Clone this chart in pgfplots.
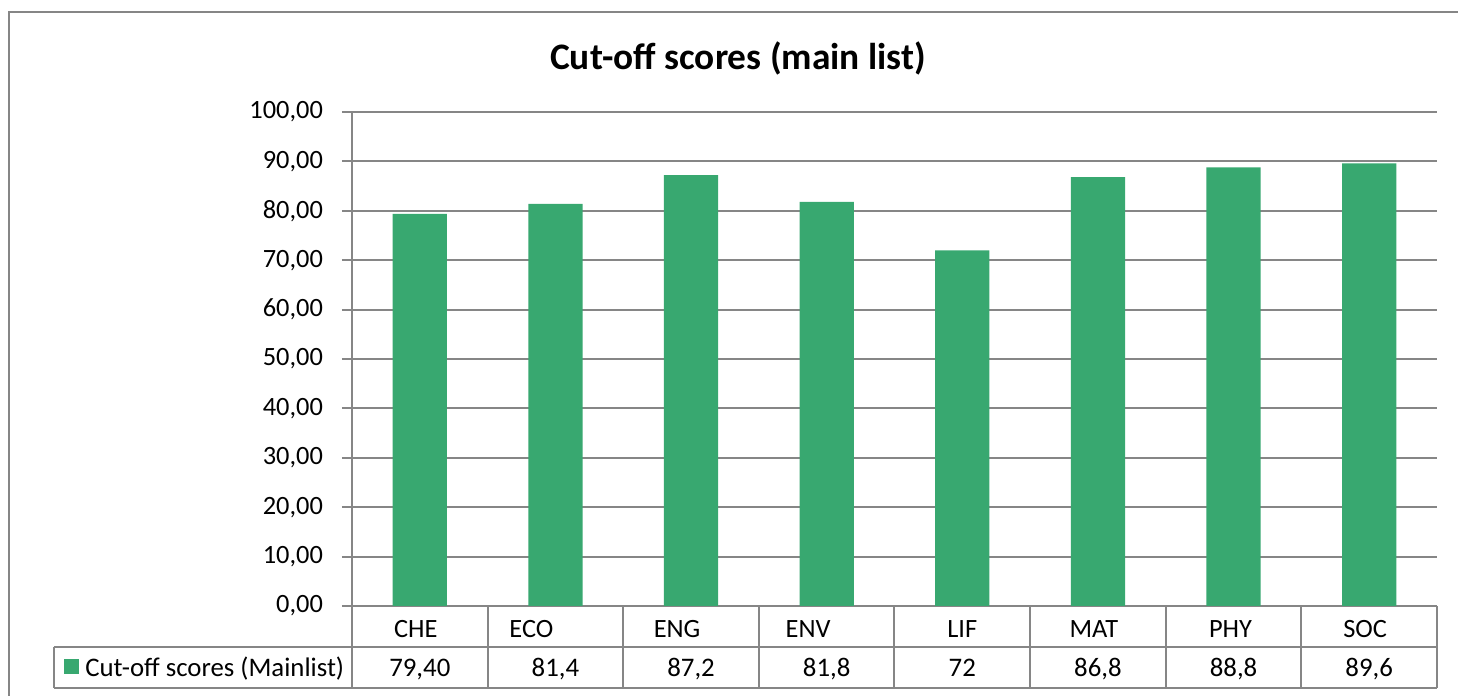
\documentclass[border=0pt]{standalone}
\usepackage{pgfplots}
\pgfplotsset{compat=1.18}
\usepackage{fontspec}
\setmainfont{Carlito}
\definecolor{barg}{RGB}{56,168,112}
\definecolor{gl}{RGB}{134,134,134}
\begin{document}
\begin{tikzpicture}[x=1pt,y=1pt]
\useasboundingbox (0,0) rectangle (729,348);
\draw[gl, line width=1pt] (4.5,0) -- (4.5,342) -- (729,342);
\node[font=\fontsize{18.7}{22}\selectfont\bfseries] at (369,319) {Cut-off scores (main list)};
\begin{axis}[
  at={(176pt,45pt)}, anchor=south west,
  scale only axis, width=542.5pt, height=247pt,
  xmin=0, xmax=8, ymin=0, ymax=100,
  axis x line=bottom, axis y line=left,
  axis line style={gl, line width=1pt, -},
  ytick={0,10,...,100},
  ymajorgrids, grid style={gl, line width=1pt},
  xtick={0.5,1.5,...,7.5},
  xticklabels={\hspace*{-4pt}CHE,\hspace*{-24pt}ECO,\hspace*{-14pt}ENG,\hspace*{-18.5pt}ENV,LIF,\hspace*{-4pt}MAT,\hspace*{-3pt}PHY,\hspace*{-4pt}SOC},
  xtick style={draw=none},
  ytick style={gl, line width=1pt},
  tick align=outside, major tick length=5pt,
  tick label style={font=\fontsize{13.2}{15}\selectfont},
  xticklabel style={anchor=base, yshift=-11pt},
  yticklabel style={xshift=-6pt, /pgf/number format/assume math mode=true,
    /pgf/number format/fixed, /pgf/number format/fixed zerofill,
    /pgf/number format/precision=2, /pgf/number format/use comma,
    /pgf/number format/1000 sep={}},
  clip=false,
]
\addplot[ybar, bar width=0.4, fill=barg, draw=none] coordinates {
  (0.5,79.4) (1.5,81.4) (2.5,87.2) (3.5,81.8) (4.5,72) (5.5,86.8) (6.5,88.8) (7.5,89.6)
};
% data table grid
\draw[gl, line width=1pt] (axis cs:-2.1976,-8.3) -- (axis cs:8,-8.3);
\draw[gl, line width=1pt] (axis cs:-2.1976,-16.6) -- (axis cs:8,-16.6);
\draw[gl, line width=1pt] (axis cs:-2.1976,-8.3) -- (axis cs:-2.1976,-16.6);
\pgfplotsinvokeforeach{0,...,8}{
  \draw[gl, line width=1pt] (axis cs:#1,0) -- (axis cs:#1,-16.6);
}
% legend key and values
\node[fill=barg, minimum size=7.5pt, inner sep=0pt, anchor=south west] at (axis cs:-2.124,-13.9) {};
\begin{scope}[every node/.style={font=\fontsize{13.4}{15}\selectfont, inner sep=0pt, anchor=base}]
\node[anchor=base west] at (axis cs:-1.969,-14.37) {Cut-off scores (Mainlist)};
\node at (axis cs:0.5,-14.37) {79,40};
\node at (axis cs:1.5,-14.37) {81,4};
\node at (axis cs:2.5,-14.37) {87,2};
\node at (axis cs:3.5,-14.37) {81,8};
\node at (axis cs:4.5,-14.37) {72};
\node at (axis cs:5.5,-14.37) {86,8};
\node at (axis cs:6.5,-14.37) {88,8};
\node at (axis cs:7.5,-14.37) {89,6};
\end{scope}
\end{axis}
\end{tikzpicture}
\end{document}
